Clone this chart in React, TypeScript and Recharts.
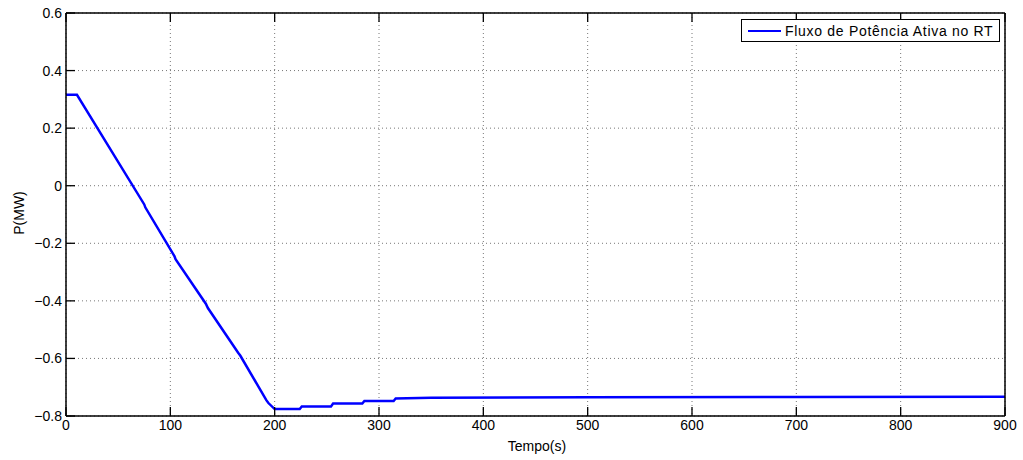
import { LineChart, Line, XAxis, YAxis, CartesianGrid, Legend } from 'recharts'

// time (s) and active power flow (MW)
const TIME = [0, 10.5, 75, 76, 104, 105, 134, 136, 165, 167, 192, 194, 200, 224, 226, 254, 256, 284, 286, 314, 316, 350, 500, 700, 900]
const POWER = [0.316, 0.316, -0.065, -0.075, -0.245, -0.255, -0.41, -0.425, -0.58, -0.59, -0.745, -0.755, -0.776, -0.776, -0.767, -0.767, -0.757, -0.757, -0.748, -0.748, -0.739, -0.737, -0.735, -0.734, -0.733]

const X_TICKS = [0, 100, 200, 300, 400, 500, 600, 700, 800, 900]
const Y_TICKS = [-0.8, -0.6, -0.4, -0.2, 0, 0.2, 0.4, 0.6]

const SERIES_NAME = 'Fluxo de Potência Ativa no RT'

const data = TIME.map((t, i) => ({ t, p: POWER[i] }))

const FONT = '"Liberation Sans", Arial, sans-serif'
const TICK_LEN = 9
// plot box edges (margin + axis sizes below)
const PLOT = { left: 66, right: 1005, top: 13, bottom: 416 }

const fmtY = (v: number) => Number(v.toFixed(1)).toString().replace('-', '\u2212')

// MATLAB style ticks: drawn inward, label outside
const BottomTick = (props: any) => {
  const { x, payload } = props
  return (
    <g>
      <line x1={x} x2={x} y1={PLOT.bottom} y2={PLOT.bottom - TICK_LEN} stroke="#000" strokeWidth={1.3} />
      <text x={x} y={PLOT.bottom + 14} textAnchor="middle" fontSize={14} fontFamily={FONT} fill="#000">
        {payload.value}
      </text>
    </g>
  )
}

const TopTick = (props: any) => {
  const { x } = props
  return <line x1={x} x2={x} y1={PLOT.top} y2={PLOT.top + TICK_LEN} stroke="#000" strokeWidth={1.3} />
}

const LeftTick = (props: any) => {
  const { y, payload } = props
  return (
    <g>
      <line x1={PLOT.left} x2={PLOT.left + TICK_LEN} y1={y} y2={y} stroke="#000" strokeWidth={1.3} />
      <text x={PLOT.left - 4} y={y + 5} textAnchor="end" fontSize={14} fontFamily={FONT} fill="#000">
        {fmtY(payload.value)}
      </text>
    </g>
  )
}

const RightTick = (props: any) => {
  const { y } = props
  return <line x1={PLOT.right} x2={PLOT.right - TICK_LEN} y1={y} y2={y} stroke="#000" strokeWidth={1.3} />
}

function LegendBox() {
  return (
    <div
      style={{
        boxSizing: 'border-box',
        width: 259,
        height: 23,
        border: '1px solid #000',
        background: '#fff',
        display: 'flex',
        alignItems: 'center',
        paddingLeft: 6,
        fontFamily: FONT,
        fontSize: 14,
        letterSpacing: 0.7,
        color: '#000',
        whiteSpace: 'nowrap',
      }}
    >
      <span style={{ display: 'inline-block', width: 33, height: 0, borderTop: '2.5px solid #0000ff', marginRight: 4 }} />
      <span>{SERIES_NAME}</span>
    </div>
  )
}

export default function App() {
  return (
    <div style={{ position: 'absolute', top: 0, left: 0, width: 1023, height: 460, background: '#fff' }}>
      <LineChart width={1023} height={460} data={data} margin={{ top: 12, right: 17, bottom: 0, left: 0 }}>
        <CartesianGrid stroke="#777" strokeDasharray="1 3" />
        <XAxis
          dataKey="t"
          type="number"
          domain={[0, 900]}
          ticks={X_TICKS}
          height={44}
          axisLine={{ stroke: '#000', strokeWidth: 1.5 }}
          tickLine={false}
          tick={<BottomTick />}
          label={() => (
            <text x={537} y={451} textAnchor="middle" fontSize={14} fontFamily={FONT} fill="#000">
              Tempo(s)
            </text>
          )}
        />
        <XAxis
          xAxisId="top"
          dataKey="t"
          type="number"
          orientation="top"
          domain={[0, 900]}
          ticks={X_TICKS}
          height={1}
          axisLine={{ stroke: '#000', strokeWidth: 1.5 }}
          tickLine={false}
          tick={<TopTick />}
        />
        <YAxis
          type="number"
          domain={[-0.8, 0.6]}
          ticks={Y_TICKS}
          width={66}
          allowDataOverflow
          axisLine={{ stroke: '#000', strokeWidth: 1.5 }}
          tickLine={false}
          tick={<LeftTick />}
          label={() => (
            <text x={24} y={213} transform="rotate(-90 24 213)" textAnchor="middle" fontSize={14} fontFamily={FONT} fill="#000">
              P(MW)
            </text>
          )}
        />
        <YAxis
          yAxisId="right"
          type="number"
          orientation="right"
          domain={[-0.8, 0.6]}
          ticks={Y_TICKS}
          width={1}
          axisLine={{ stroke: '#000', strokeWidth: 1.5 }}
          tickLine={false}
          tick={<RightTick />}
        />
        <Legend
          layout="vertical"
          align="center"
          verticalAlign="middle"
          wrapperStyle={{ top: 19, left: 741, width: 'auto' }}
          content={() => <LegendBox />}
        />
        <Line
          type="linear"
          dataKey="p"
          name={SERIES_NAME}
          stroke="#0000ff"
          strokeWidth={2.5}
          dot={false}
          isAnimationActive={false}
        />
      </LineChart>
    </div>
  )
}
